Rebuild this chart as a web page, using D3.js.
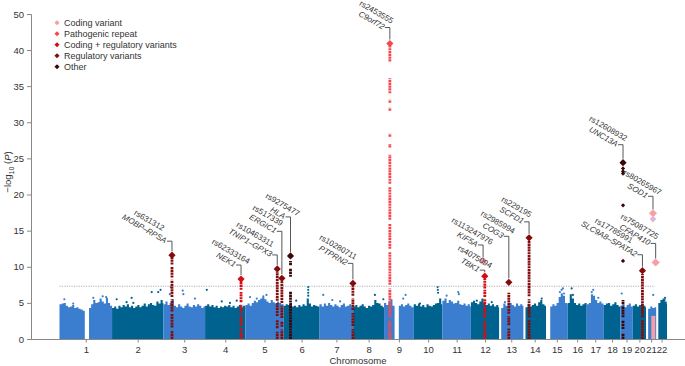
<!DOCTYPE html>
<html>
<head>
<meta charset="utf-8">
<script src="https://cdn.jsdelivr.net/npm/d3@7"></script>
<style>
  body { margin: 0; background: #fff; }
  svg { display: block; font-family: "Liberation Sans", Arial, sans-serif; }
</style>
</head>
<body>
<svg id="chart"></svg>
<script>
// Manhattan plot — ALS GWAS loci

const chromosomes = ["1","2","3","4","5","6","7","8","9","10","11","12","13","14","15","16","17","18","19","20","21","22"];
// chromosome lengths, Mb (hg19)
const chromLengths = [249.25,243.20,198.02,191.15,180.92,171.12,159.14,146.36,141.21,135.53,135.01,133.85,115.17,107.35,102.53,90.35,81.20,78.08,59.13,63.03,48.13,51.30];

// upper edge of the SNP cloud, -log10(P), one value per 10 Mb
const envelope = [
  [4.8,4.9,5.0,4.6,4.4,4.5,4.7,4.3,4.4,4.2,4.1,3.9,0,0,4.3,4.8,5.4,5.0,5.1,5.6,5.2,4.9,5.7,5.0,4.6],
  [4.3,4.5,4.2,4.6,4.4,4.7,4.5,4.8,4.4,4.6,4.3,4.5,4.7,4.4,4.6,4.9,4.5,4.8,5.0,4.7,4.6,5.2,4.9,5.4,5.0],
  [4.8,5.2,4.7,5.0,5.5,4.6,4.4,4.8,4.5,4.3,4.6,4.9,4.5,4.4,4.7,4.5,4.8,4.6,4.3,4.5],
  [4.6,4.8,4.5,4.7,4.4,4.6,4.3,4.5,4.4,4.6,4.5,4.7,4.4,4.6,4.3,4.5,4.7,4.4,4.6,4.5],
  [4.7,4.9,4.6,5.0,5.3,5.1,5.4,5.6,5.8,5.5,5.2,5.0,5.4,5.1,4.9,5.2,5.0,4.8,4.9],
  [4.6,4.8,4.7,5.0,4.5,4.6,4.4,4.7,4.5,4.8,4.6,5.6,4.9,4.5,4.7,4.6,4.5,4.8],
  [4.8,4.5,4.9,4.6,5.0,4.7,4.5,4.8,4.6,4.4,4.7,4.9,4.5,4.6,4.8,4.5],
  [4.5,4.7,4.4,4.6,4.8,4.5,4.3,4.6,4.5,4.7,5.4,5.0,4.9,4.6,4.4],
  [5.0,4.7,5.2,5.5,4.6,0,0,4.6,4.8,4.5,4.7,4.9,4.6,4.4,4.7],
  [4.8,4.6,4.9,4.5,4.7,4.4,4.8,4.6,4.5,4.7,4.9,5.0,5.6,4.8],
  [5.3,5.6,5.0,5.4,5.2,4.9,5.0,5.3,4.8,4.7,4.9,4.6,4.8,4.5],
  [5.1,5.3,5.0,4.8,5.2,5.6,5.0,4.7,4.9,4.6,4.8,4.5,4.7,4.4],
  [0,4.3,4.9,4.6,4.8,5.0,4.7,4.5,4.9,4.6,4.8,4.6],
  [0,4.4,4.8,4.5,4.7,4.9,4.6,5.1,5.4,4.8,4.6],
  [0,0,4.5,4.8,4.6,5.0,5.8,6.3,6.0,5.0,4.8],
  [5.0,6.2,5.6,5.0,4.7,4.9,4.6,4.8,5.0,4.7],
  [4.8,5.0,6.2,6.0,5.4,5.0,5.2,4.9,4.7],
  [4.7,4.9,5.0,4.6,4.8,5.1,4.7,4.5],
  [4.6,4.8,4.4,4.7,4.9,4.5],
  [4.6,4.8,4.5,4.7,4.9,4.6,4.4],
  [0,4.2,4.5,4.3,4.4],
  [0,5.0,5.4,5.6,5.2,4.8]
];

// isolated SNPs above the cloud: [chromosome, Mb, -log10 P]
const strayDots = [
  [1,23,5.5],[1,65,4.9],[1,160,5.7],[1,205,5.9],[1,221,5.8],
  [2,22,5.5],[2,69,5.1],[2,93,5.7],[2,101,5.0],[2,188,6.5],[2,219,6.5],[2,230,6.8],
  [3,31,6.2],[3,35,7.2],[3,92,6.7],[3,95,6.2],[3,150,5.6],
  [4,8,6.8],[4,79,5.2],[4,118,5.0],[4,150,5.3],
  [5,22,5.8],[5,54,5.6],[5,85,5.9],[5,100,6.1],
  [6,60,5.3],[6,117,7.2],[6,117,6.8],[6,117,6.4],[6,117,6.0],
  [7,17,6.1],[7,60,5.4],[7,97,5.2],
  [8,103,6.1],[8,143,5.5],
  [9,91,5.6],[9,102,6.1],
  [10,29,4.9],[10,113,7.2],[10,114,6.8],[10,115,6.4],
  [11,20,6.0],[11,75,6.5],[11,78,6.2],
  [12,28,5.3],[12,99,5.1],
  [13,28,5.1],
  [14,87,5.6],
  [15,66,6.5],[15,74,6.8],[15,80,7.0],[15,85,6.3],
  [16,19,7.0],[16,25,6.1],
  [17,24,6.5],[17,31,6.8],[17,55,5.7],
  [19,7,6.3],
  [21,34,6.1],
  [22,40,5.4],[22,42,5.7]
];

const categories = ["Coding variant","Pathogenic repeat","Coding + regulatory variants","Regulatory variants","Other"];
const catColors = ["#f59ea4","#f5474d","#d40d12","#840b0b","#3a0606"];

// lead SNPs: top value and the runs of linked SNPs beneath them
const loci = [
  {rs:"rs631312",    gene:"MOBP–RPSA",     chr:3,  pos:41,    cat:3, top:11.6,  seg:[[0,1.2],[1.6,3.5],[3.8,5.5],[5.8,8.2],[8.5,10.0],[10.3,11.3]]},
  {rs:"rs62333164",  gene:"NEK1",          chr:4,  pos:170.5, cat:2, top:8.3,   seg:[[0,1.5],[1.8,3.3],[3.6,4.8],[5.1,6.5],[6.8,8.0]]},
  {rs:"rs10463311",  gene:"TNIP1–GPX3",    chr:5,  pos:151,   cat:3, top:9.7,   seg:[[0,1.0],[1.5,2.6],[3.2,5.0],[5.3,9.3]]},
  {rs:"rs517339",    gene:"ERGIC1",        chr:5,  pos:173,   cat:3, top:8.4,   seg:[[0,1.3],[1.7,2.4],[2.9,4.6],[5.0,8.0]]},
  {rs:"rs9275477",   gene:"HLA",           chr:6,  pos:33,    cat:4, top:11.5,  seg:[[0,6.6],[8.6,9.8],[10.2,10.8]]},
  {rs:"rs10280711",  gene:"PTPRN2",        chr:7,  pos:157.8, cat:3, top:7.7,   seg:[[0,1.4],[1.8,3.6],[4.0,5.6],[6.0,7.3]]},
  {rs:"rs2453555",   gene:"C9orf72",       chr:9,  pos:27.5,  cat:1, top:41.8,  seg:[[0,2.5],[3,7],[7.5,12],[12.5,16],[16.5,21],[21.5,25.5],[26.5,27],[28,28.4],[31.6,32.0],[32.7,33.1],[34.0,36.1],[38.4,41.4]]},
  {rs:"rs113247976", gene:"KIF5A",         chr:12, pos:58,    cat:0, top:10.8,  seg:[]},
  {rs:"rs4075094",   gene:"TBK1",          chr:12, pos:66,    cat:2, top:8.7,   seg:[[0,2.5],[2.9,5.5],[5.8,6.8],[7.0,8.3]]},
  {rs:"rs2985994",   gene:"COG3",          chr:13, pos:46.1,  cat:3, top:7.85,  seg:[[0,1.5],[1.9,3.2],[3.5,6.4]]},
  {rs:"rs229195",    gene:"SCFD1",         chr:14, pos:27,    cat:3, top:14.0,  seg:[[0,2.6],[3.0,5.5],[5.9,13.6]]},
  {rs:"rs12608932",  gene:"UNC13A",        chr:19, pos:13,    cat:4, top:24.4,  seg:[[0,0.8],[1.4,2.6],[3.0,4.6],[4.8,5.4]]},
  {rs:"rs80265967",  gene:"SOD1",          chr:21, pos:33,    cat:0, top:17.4,  seg:[]},
  {rs:"rs75087725",  gene:"CFAP410",       chr:21, pos:45.7,  cat:0, top:10.6,  seg:[]},
  {rs:"rs17785991",  gene:"SLC9A8–SPATA2", chr:20, pos:46,    cat:3, top:9.45,  seg:[[0,2.6],[3.0,9.0]]}
];

// single linked SNPs away from their column: [chromosome, Mb, -log10 P, category]
const linkedDots = [
  [19,13,23.6,4],[19,13,23.2,4],[19,13,22.9,4],[19,13,18.5,4],[19,13,10.8,4],
  [21,33,16.6,0]
];

// coding-variant SNPs inside chr21 cloud: [chromosome, from Mb, to Mb, top]
const codingBand = [21, 25, 44, 3.2];

const yTicks = [0,5,10,15,20,25,30,35,40,50];
const threshold = 7.3;

// label leader length above each lead SNP (px), same order as loci
const labelLift = [14,14,14,47,39,20,16,16,6,46,16,18,17,19,16];

(function () {
  const W = 685, H = 366;
  const svg = d3.select("#chart").attr("width", W).attr("height", H);

  const LIGHT = "#3b7ecf", DARK = "#00628f";

  const starts = d3.cumsum([0].concat(chromLengths.slice(0, -1)));
  const genome = d3.sum(chromLengths);

  const x = d3.scaleLinear().domain([0, genome]).range([59.5, 667]);
  const y = d3.scaleLinear().domain([0, 40, 50]).range([339, 50, 14]);
  const gx = (chr, pos) => x(starts[chr - 1] + pos);

  // ---- SNP cloud: stepped area per run of non-empty bins ----
  const cloud = svg.append("g");
  const area = d3.area().curve(d3.curveStepAfter)
    .x(p => x(p[0])).y0(y(0)).y1(p => y(p[1]));
  envelope.forEach((bins, i) => {
    const len = chromLengths[i];
    let run = [];
    const flush = () => {
      if (run.length) {
        cloud.append("path").attr("d", area(run))
          .attr("fill", i % 2 === 0 ? LIGHT : DARK);
      }
      run = [];
    };
    bins.forEach((v, j) => {
      const a = starts[i] + j * 10, b = starts[i] + Math.min((j + 1) * 10, len);
      if (!v) { flush(); return; }
      if (run.length) run.pop();
      run.push([a, v], [b, v]);
    });
    flush();
  });

  strayDots.forEach(d => {
    cloud.append("circle")
      .attr("cx", gx(d[0], d[1])).attr("cy", y(d[2])).attr("r", 1.1)
      .attr("fill", (d[0] - 1) % 2 === 0 ? LIGHT : DARK);
  });

  // coding variants band in chr21
  cloud.append("rect")
    .attr("x", gx(codingBand[0], codingBand[1]))
    .attr("width", gx(codingBand[0], codingBand[2]) - gx(codingBand[0], codingBand[1]))
    .attr("y", y(codingBand[3])).attr("height", y(0) - y(codingBand[3]))
    .attr("fill", catColors[0]);

  // ---- significance line ----
  svg.append("line")
    .attr("x1", x(0)).attr("x2", 655)
    .attr("y1", y(threshold)).attr("y2", y(threshold))
    .attr("stroke", "#999").attr("stroke-width", 0.8)
    .attr("stroke-dasharray", "1.2 1.2");

  // ---- axes ----
  const yAxis = svg.append("g")
    .attr("transform", "translate(31,0)")
    .call(d3.axisLeft(y).tickValues(yTicks).tickSize(4).tickPadding(3));
  yAxis.select(".domain").attr("stroke", "#888");
  yAxis.selectAll(".tick line").attr("stroke", "#888");
  yAxis.selectAll("text").attr("font-size", 9.5).attr("fill", "#333")
    .attr("font-family", "Liberation Sans, Arial, sans-serif");

  svg.append("line")
    .attr("x1", 31).attr("x2", W).attr("y1", 339.5).attr("y2", 339.5)
    .attr("stroke", "#888");

  const centers = chromLengths.map((l, i) => starts[i] + l / 2);
  const xAxis = svg.append("g")
    .attr("transform", "translate(0,339.5)")
    .call(d3.axisBottom(x).tickValues(centers).tickSize(3).tickPadding(4)
      .tickFormat((d, i) => chromosomes[i]));
  xAxis.select(".domain").remove();
  xAxis.selectAll(".tick line").attr("stroke", "#888");
  xAxis.selectAll("text").attr("font-size", 9.5).attr("fill", "#333")
    .attr("font-family", "Liberation Sans, Arial, sans-serif");

  svg.append("text")
    .attr("x", 358).attr("y", 364)
    .attr("text-anchor", "middle").attr("font-size", 9.5).attr("fill", "#333")
    .text("Chromosome");

  const yl = svg.append("text")
    .attr("transform", "translate(11,172) rotate(-90)")
    .attr("text-anchor", "middle").attr("font-size", 9.5).attr("fill", "#333");
  yl.append("tspan").text("−log");
  yl.append("tspan").attr("font-size", 7).attr("dy", 2.5).text("10");
  yl.append("tspan").attr("dy", -2.5).text(" (");
  yl.append("tspan").attr("font-style", "italic").text("P");
  yl.append("tspan").text(")");

  // ---- loci ----
  const diamond = s => d3.symbol().type(d3.symbolSquare).size(s)();
  const mk = svg.append("g");

  loci.forEach(d => {
    const cx = gx(d.chr, d.pos);
    d.seg.forEach(s => {
      mk.append("line")
        .attr("x1", cx).attr("x2", cx)
        .attr("y1", y(s[0])).attr("y2", y(s[1]))
        .attr("stroke", catColors[d.cat]).attr("stroke-width", 2.8)
        .attr("stroke-dasharray", "2.2 0.6");
    });
  });

  linkedDots.forEach(d => {
    mk.append("path")
      .attr("d", diamond(d[3] === 0 ? 22 : 9))
      .attr("transform", `translate(${gx(d[0], d[1])},${y(d[2])}) rotate(45)`)
      .attr("fill", d[3] === 0 ? "#e0b4d4" : catColors[d[3]]);
  });

  loci.forEach(d => {
    const cx = gx(d.chr, d.pos);
    mk.append("path")
      .attr("d", diamond(d.cat === 0 ? 30 : 26))
      .attr("transform", `translate(${cx},${y(d.top)}) rotate(45)`)
      .attr("fill", catColors[d.cat])
      .attr("stroke", d.cat === 0 ? "#f8c0c4" : "none").attr("stroke-width", 0.8);
  });

  // ---- labels ----
  const lab = svg.append("g");
  loci.forEach((d, i) => {
    const cx = gx(d.chr, d.pos);
    const ty = y(d.top) - 4;
    const cy = y(d.top) - labelLift[i];
    lab.append("path")
      .attr("d", `M${cx - 5},${cy}H${cx}V${ty}`)
      .attr("fill", "none").attr("stroke", "#444").attr("stroke-width", 0.9);

    const g = lab.append("g")
      .attr("transform", `translate(${cx - 6},${cy}) rotate(30)`);
    const gene = g.append("text")
      .attr("x", 0).attr("y", 2.5)
      .attr("text-anchor", "end").attr("font-size", 8)
      .attr("font-style", "italic").attr("fill", "#333")
      .text(d.gene);
    const gw = gene.node().getComputedTextLength();
    g.append("text")
      .attr("x", -gw / 2).attr("y", -7)
      .attr("text-anchor", "middle").attr("font-size", 8)
      .attr("fill", "#333")
      .text(d.rs);
  });

  // ---- legend ----
  const lg = svg.append("g");
  categories.forEach((c, i) => {
    const ly = 22.7 + i * 11;
    lg.append("path")
      .attr("d", diamond(13))
      .attr("transform", `translate(57,${ly}) rotate(45)`)
      .attr("fill", catColors[i]);
    lg.append("text")
      .attr("x", 64).attr("y", ly + 3.2)
      .attr("font-size", 9).attr("fill", "#333")
      .text(c);
  });
})();
</script>
</body>
</html>
